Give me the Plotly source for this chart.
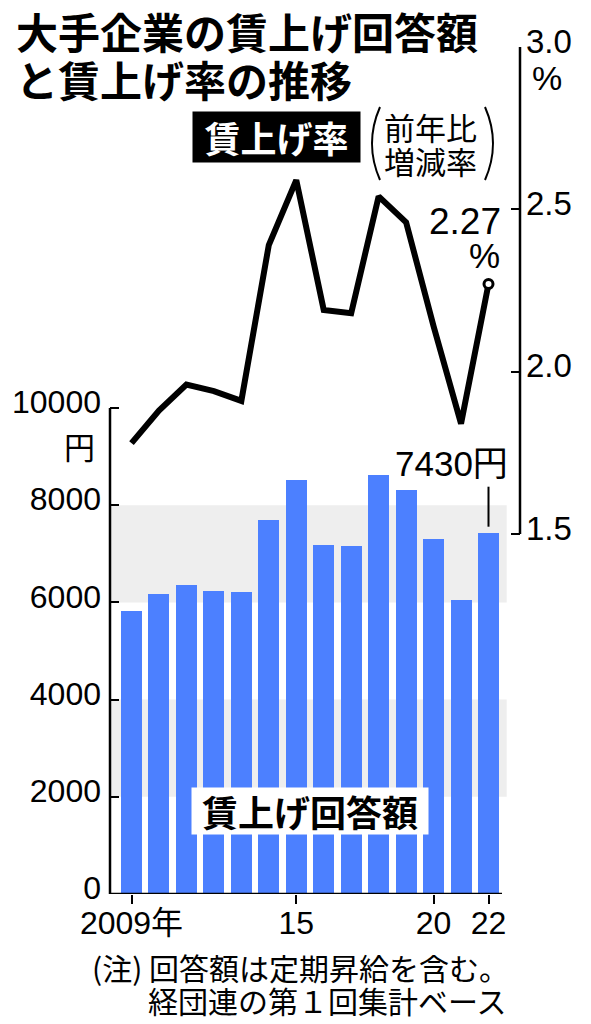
import plotly.graph_objects as go

# ---- data ----
years = [2009, 2010, 2011, 2012, 2013, 2014, 2015, 2016, 2017, 2018, 2019, 2020, 2021, 2022]
amounts = [5830, 6170, 6360, 6235, 6215, 7700, 8520, 7180, 7160, 8620, 8310, 7300, 6050, 7430]
rates = [1.78, 1.88, 1.96, 1.94, 1.91, 2.39, 2.59, 2.19, 2.18, 2.54, 2.46, 2.14, 1.84, 2.27]

x_tickvals = [2009, 2015, 2020, 2022]
x_ticktext = ["2009年", "15", "20", "22"]
y_tickvals = [0, 2000, 4000, 6000, 8000, 10000]
y_ticktext = ["0", "2000", "4000", "6000", "8000", "10000"]
y2_tickvals = [1.5, 2.0, 2.5, 3.0]
y2_ticktext = ["1.5", "2.0", "2.5", "3.0"]
band_pairs = [(2000, 4000), (6000, 8000)]

# ---- geometry (pixels) ----
FW, FH = 591, 1024
L, R, T, B = 110, 520, 47, 894


def px(x):
    return (x - L) / (R - L)


def py(y):
    return (B - y) / (B - T)


NUM = "Liberation Sans, Arial, Noto Sans CJK JP, sans-serif"
JP = "Noto Sans CJK JP, sans-serif"
BLUE = "#4c80ff"

fig = go.Figure()

fig.add_trace(go.Bar(
    x=years, y=amounts, width=0.765, marker=dict(color=BLUE, line=dict(width=0)),
    yaxis="y", hoverinfo="skip", showlegend=False,
))
fig.add_trace(go.Scatter(
    x=years, y=rates, mode="lines", yaxis="y2",
    line=dict(color="black", width=6), hoverinfo="skip", showlegend=False,
))
fig.add_trace(go.Scatter(
    x=[years[-1]], y=[rates[-1]], mode="markers", yaxis="y2",
    marker=dict(size=9, color="white", line=dict(color="black", width=3)),
    hoverinfo="skip", showlegend=False,
))

yl_top = 10000 * (B - T) / (B - 408)
per_px = 1.5 / (534 - T)
y2_bot = 1.5 - (B - 534) * per_px

shapes = []
for lo, hi in band_pairs:
    shapes.append(dict(type="rect", xref="paper", yref="y", x0=0, x1=px(506.7),
                       y0=lo, y1=hi, fillcolor="#eeeeee", line=dict(width=0), layer="below"))
shapes.append(dict(type="line", xref="paper", yref="y", x0=0, x1=0,
                   y0=y_tickvals[0], y1=y_tickvals[-1], line=dict(color="black", width=2.5)))
shapes.append(dict(type="line", xref="paper", yref="y2", x0=1, x1=1,
                   y0=y2_tickvals[0], y1=y2_tickvals[-1], line=dict(color="black", width=2.5)))
shapes.append(dict(type="line", xref="paper", yref="y", x0=0, x1=px(502),
                   y0=0, y1=0, line=dict(color="black", width=2.5)))
shapes.append(dict(type="line", xref="x", yref="paper", x0=years[-1], x1=years[-1],
                   y0=py(486.7), y1=py(526.7), line=dict(color="black", width=2)))
shapes.append(dict(type="path", xref="paper", yref="paper",
                   path=f"M {px(380)},{py(107)} Q {px(364)},{py(143.5)} {px(380)},{py(180)}",
                   line=dict(color="black", width=2)))
shapes.append(dict(type="path", xref="paper", yref="paper",
                   path=f"M {px(485)},{py(107)} Q {px(501)},{py(143.5)} {px(485)},{py(180)}",
                   line=dict(color="black", width=2)))

ann = []


def txt(text, x, y, size, family=JP, xanchor="center", yanchor="middle", color="black", **kw):
    ann.append(dict(text=text, x=px(x), y=py(y), xref="paper", yref="paper",
                    xanchor=xanchor, yanchor=yanchor, showarrow=False,
                    font=dict(size=size, family=family, color=color), **kw))


txt("<b>大手企業の賃上げ回答額</b>", 14, 30, 42, xanchor="left")
txt("<b>と賃上げ率の推移</b>", 14, 78, 42, xanchor="left")
txt("<b>賃上げ率</b>", 276.3, 136.7, 36, color="white", bgcolor="black",
    width=163, height=46, borderpad=2)
txt("前年比", 430.5, 126.7, 31)
txt("増減率", 430.5, 160, 31)
txt("2.27", 503, 221, 37, family=NUM, xanchor="right")
txt("%", 502, 255, 35, family=NUM, xanchor="right")
txt("%", 546.7, 78, 34, family=NUM)
txt("円", 79, 445, 31)
txt("7430円", 510, 463.5, 35, family=NUM, xanchor="right")
txt("<b>賃上げ回答額</b>", 310.3, 811.3, 36, bgcolor="white",
    width=232, height=42, borderpad=2)
txt("(注) 回答額は定期昇給を含む。", 90, 966.7, 30, xanchor="left")
txt("経団連の第１回集計ベース", 146, 999.5, 30, xanchor="left")

fig.update_layout(
    width=FW, height=FH, autosize=False,
    margin=dict(l=L, r=FW - R, t=T, b=FH - B, pad=0),
    paper_bgcolor="white", plot_bgcolor="rgba(0,0,0,0)",
    bargap=0, showlegend=False,
    xaxis=dict(range=[2009 - (131.5 - L) / 27.46, 2022 + (R - 488.5) / 27.46],
               tickmode="array", tickvals=x_tickvals, ticktext=x_ticktext,
               ticks="outside", ticklen=9, tickwidth=2, tickcolor="black",
               showgrid=False, zeroline=False, showline=False,
               ticklabelstandoff=-8,
               tickfont=dict(size=32, family=NUM, color="black")),
    yaxis=dict(range=[0, yl_top], tickmode="array", tickvals=y_tickvals, ticktext=y_ticktext,
               ticks="inside", ticklen=9, tickwidth=2, tickcolor="black",
               showgrid=False, zeroline=False, showline=False,
               ticklabelshift=-6, ticklabelstandoff=8,
               tickfont=dict(size=32, family=NUM, color="black")),
    yaxis2=dict(range=[y2_bot, 3.0], overlaying="y", side="right", anchor="x",
                tickmode="array", tickvals=y2_tickvals, ticktext=y2_ticktext,
                ticks="inside", ticklen=9, tickwidth=2, tickcolor="black",
                showgrid=False, zeroline=False, showline=False,
                ticklabelshift=-6, ticklabelstandoff=5,
                tickfont=dict(size=33, family=NUM, color="black")),
    shapes=shapes, annotations=ann,
)

fig.write_html("out.html", config={"displayModeBar": False},
               post_script="document.body.style.margin='0';document.body.style.overflow='hidden';")
